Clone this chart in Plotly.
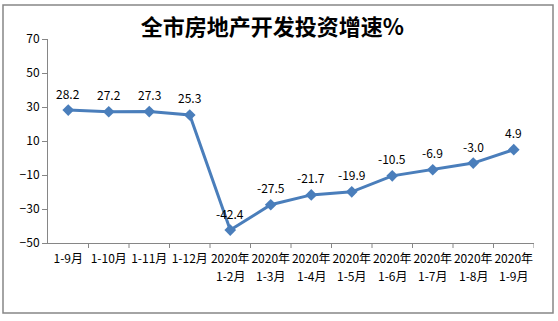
import plotly.graph_objects as go

line1 = ["1-9月", "1-10月", "1-11月", "1-12月", "2020年", "2020年",
         "2020年", "2020年", "2020年", "2020年", "2020年", "2020年"]
line2 = ["", "", "", "", "1-2月", "1-3月", "1-4月", "1-5月", "1-6月", "1-7月", "1-8月", "1-9月"]
values = [28.2, 27.2, 27.3, 25.3, -42.4, -27.5, -21.7, -19.9, -10.5, -6.9, -3.0, 4.9]
labels = ["28.2", "27.2", "27.3", "25.3", "-42.4", "-27.5", "-21.7", "-19.9", "-10.5", "-6.9", "-3.0", "4.9"]
y_ticks = [-50, -30, -10, 10, 30, 50, 70]

font_family = "Noto Sans CJK SC, DejaVu Sans, sans-serif"
xs = list(range(len(line1)))

fig = go.Figure()
fig.add_trace(go.Scatter(
    x=xs, y=values, mode="lines+markers",
    line=dict(color="#4A7EBB", width=3),
    marker=dict(symbol="diamond", size=9, color="#4A7EBB"),
    cliponaxis=False, showlegend=False,
))

annotations = []
for x, v, t in zip(xs, values, labels):
    annotations.append(dict(x=x, y=v, text=t, showarrow=False, xref="x", yref="y",
                            yshift=17, yanchor="middle",
                            font=dict(size=12, color="black", family=font_family)))
for x, t in zip(xs, line2):
    if t:
        annotations.append(dict(x=x, y=0, xref="x", yref="paper", text=t, showarrow=False,
                                yanchor="middle", yshift=-32,
                                font=dict(size=12, color="black", family=font_family)))

fig.update_layout(
    width=558, height=321,
    margin=dict(l=48, r=24, t=39, b=78),
    paper_bgcolor="white", plot_bgcolor="white",
    title=dict(text="<b>全市房地产开发投资增速%</b>", x=0.488, xanchor="center",
               y=0.915, yanchor="middle",
               font=dict(size=22, color="black", family=font_family)),
    xaxis=dict(
        tickmode="array", tickvals=xs, ticktext=line1, tickangle=0,
        range=[-0.5, 11.5], showgrid=False, zeroline=False,
        showline=True, linecolor="#868686", linewidth=1,
        ticks="outside", ticklen=5, tickcolor="rgba(0,0,0,0)",
        tickfont=dict(size=12, color="black", family=font_family),
    ),
    yaxis=dict(
        range=[-50, 70], tickvals=y_ticks, showgrid=False, zeroline=False,
        showline=True, linecolor="#868686", linewidth=1,
        ticks="outside", ticklen=5, tickcolor="#868686",
        tickfont=dict(size=12, color="black", family=font_family),
    ),
    annotations=annotations,
    shapes=[
        dict(type="rect", xref="paper", yref="paper",
             x0=(3 - 48) / 486, x1=(553 - 48) / 486,
             y0=(243 - 313) / 204, y1=(243 - 5) / 204,
             line=dict(color="#868686", width=1.5), fillcolor="rgba(0,0,0,0)", layer="below"),
    ] + [
        dict(type="line", xref="x", yref="paper", x0=i - 0.5, x1=i - 0.5,
             y0=0, y1=-5 / 204, line=dict(color="#868686", width=1))
        for i in range(1, len(line1) + 1)
    ],
)

fig.write_html("out.html")
